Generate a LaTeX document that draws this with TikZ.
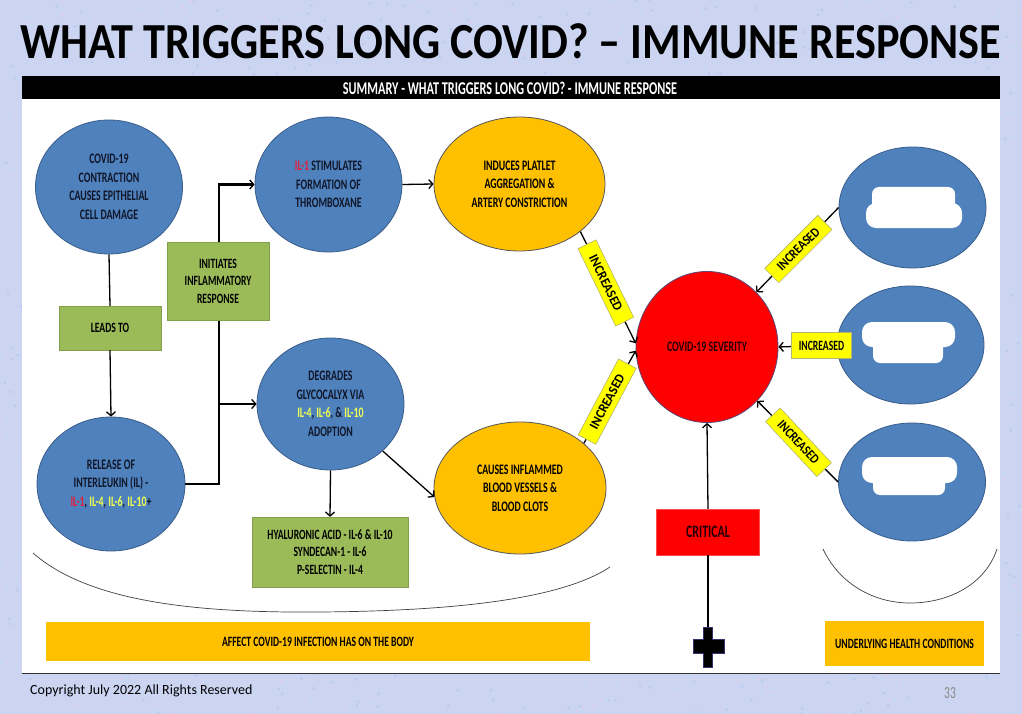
\documentclass[tikz,border=0pt]{standalone}
\usepackage{fontspec}
\setmainfont{Carlito}
\newfontfamily\diagfont[FakeStretch=0.68]{Carlito}
\newfontfamily\titlefont[FakeStretch=0.875]{Carlito}
\newfontfamily\incfontA[FakeStretch=0.95]{Carlito}
\newfontfamily\incfontB[FakeStretch=0.86]{Carlito}
\usetikzlibrary{shapes.geometric,arrows.meta}
\definecolor{bgcol}{RGB}{203,213,241}
\definecolor{bgdotA}{RGB}{225,205,235}
\definecolor{bgdotB}{RGB}{180,200,240}
\definecolor{bfill}{RGB}{79,129,189}
\definecolor{bline}{RGB}{56,93,138}
\definecolor{ofill}{RGB}{255,192,0}
\definecolor{oline}{RGB}{85,85,85}
\definecolor{gfill}{RGB}{155,187,89}
\definecolor{rfill}{RGB}{255,0,0}
\definecolor{rline}{RGB}{90,70,120}
\definecolor{yfill}{RGB}{255,255,0}
\definecolor{yline}{RGB}{180,180,110}
\definecolor{dtext}{RGB}{16,22,40}
\definecolor{ilred}{RGB}{230,30,60}
\definecolor{ilyel}{RGB}{240,255,80}
\definecolor{crittext}{RGB}{35,0,5}
\newcommand\dtxt{\diagfont\bfseries\fontsize{14.5}{18.5}\selectfont}
\newcommand\gtxt{\diagfont\bfseries\fontsize{14.2}{17.5}\selectfont}
\tikzset{
  bell/.style={ellipse, draw=bline, fill=bfill, line width=0.8pt, inner sep=0pt, text=dtext, align=center, font=\dtxt},
  oell/.style={ellipse, draw=oline, fill=ofill, line width=0.8pt, inner sep=0pt, text=black, align=center, font=\dtxt},
  gbox/.style={rectangle, fill=gfill, draw=gfill!85!black, line width=0.3pt, inner sep=0pt, text=black, align=center, font=\gtxt},
  incbox/.style={rectangle, fill=yfill, draw=yline, line width=0.6pt, inner sep=0pt, text=black, minimum height=20pt},
  obox/.style={rectangle, fill=ofill, draw=none, inner sep=0pt, text=black, align=center, font=\gtxt},
  arr/.style={line width=1.3pt, -{Straight Barb[length=4pt,width=9pt]}},
  plain/.style={line width=1.3pt},
  wline/.style={line width=2.2pt},
}
\begin{document}
\begin{tikzpicture}[x=1pt,y=-1pt]
\useasboundingbox (0,0) rectangle (1022,714);
\fill[bgcol] (0,0) rectangle (1022,714);
\pgfmathsetseed{7}
\foreach \i in {1,...,900} {
  \fill[bgdotA, opacity=0.7] ({rnd*1022},{rnd*714}) circle (1.6pt);
  \fill[bgdotB, opacity=0.7] ({rnd*1022},{rnd*714}) circle (1.6pt);
}
% title
\node[font=\titlefont\bfseries\fontsize{50.5}{60}\selectfont, text=black] (title) at (511,41) {WHAT TRIGGERS LONG COVID? – IMMUNE RESPONSE};
% panel
\fill[white] (22,99) rectangle (1000,673);
\fill[black] (22,76) rectangle (1000,99);
\draw[black!80, line width=1pt] (22,673) -- (1000,673);
\node[font=\diagfont\bfseries\fontsize{18}{20}\selectfont, text=white] (head) at (510,88) {SUMMARY - WHAT TRIGGERS LONG COVID? - IMMUNE RESPONSE};
% left nodes
\node[bell, minimum width=147pt, minimum height=134pt] (c1) at (109,187) {COVID-19\\CONTRACTION\\CAUSES EPITHELIAL\\CELL DAMAGE};
\node[bell, minimum width=147pt, minimum height=135pt] (c2) at (328.5,184.5) {\textcolor{ilred}{IL-1} STIMULATES\\FORMATION OF\\THROMBOXANE};
\node[oell, minimum width=171pt, minimum height=134pt] (o1) at (519.5,184) {INDUCES PLATLET\\AGGREGATION \&\\ARTERY CONSTRICTION};
\node[gbox, minimum width=102pt, minimum height=44pt] (leads) at (110,328) {LEADS TO};
\node[bell, minimum width=148pt, minimum height=134pt] (rel) at (111,484) {RELEASE OF\\INTERLEUKIN (IL) -\\\textcolor{ilred}{IL-1}, \textcolor{ilyel}{IL-4}, \textcolor{ilyel}{IL-6}, \textcolor{ilyel}{IL-10}+};
\node[bell, minimum width=147pt, minimum height=132pt] (c7) at (330.5,404) {DEGRADES\\GLYCOCALYX VIA\\\textcolor{ilyel}{IL-4}, \textcolor{ilyel}{IL-6}, \& \textcolor{ilyel}{IL-10}\\ADOPTION};
\node[oell, minimum width=172pt, minimum height=132pt] (o2) at (520,488) {CAUSES INFLAMMED\\BLOOD VESSELS \&\\BLOOD CLOTS};
\node[gbox, minimum width=156pt, minimum height=70pt] (hy) at (330,552) {HYALURONIC ACID - IL-6 \& IL-10\\SYNDECAN-1 - IL-6\\P-SELECTIN - IL-4};
% connectors left
\coordinate (jb) at (219,484);
\draw[plain] (c1.south) -- (leads.north);
\draw[arr] (leads.south) -- (rel.north);
\draw[wline, -{Straight Barb[length=4pt,width=9pt,line width=1.3pt]}] (rel.east) -- (jb) |- (c2.west);
\draw[wline, -{Straight Barb[length=4pt,width=9pt,line width=1.3pt]}] (jb) |- (c7.west);
\node[gbox, minimum width=102pt, minimum height=78pt] (init) at (218,281) {INITIATES\\INFLAMMATORY\\RESPONSE};
\draw[arr] (c2.east) -- (o1.west);
\draw[arr] (c7.south) -- (hy.north);
\draw[arr] (c7.-42) -- (o2.186);
% severity
\node[ellipse, draw=rline, fill=rfill, line width=0.8pt, minimum width=142pt, minimum height=151pt, inner sep=0pt, font=\dtxt, text=crittext] (sev) at (707,347) {COVID-19 SEVERITY};
% right ellipses
\node[ellipse, draw=bline, fill=bfill, line width=0.8pt, minimum width=147pt, minimum height=121pt, inner sep=0pt] (r1) at (912.5,207.5) {};
\node[ellipse, draw=bline, fill=bfill, line width=0.8pt, minimum width=147pt, minimum height=118pt, inner sep=0pt] (r2) at (910.5,345) {};
\node[ellipse, draw=bline, fill=bfill, line width=0.8pt, minimum width=147pt, minimum height=118pt, inner sep=0pt] (r3) at (912,482) {};
% white blobs
\fill[white, rounded corners=7pt] (872,187) rectangle (955,215);
\fill[white, rounded corners=10pt] (866,203) rectangle (962,228);
\fill[white, rounded corners=10pt] (862,322) rectangle (955,347);
\fill[white, rounded corners=7pt] (873,338) rectangle (943,363);
\fill[white, rounded corners=10pt] (862,457) rectangle (957,483);
\fill[white, rounded corners=7pt] (873,476) rectangle (945,495);
% increased connectors
\draw[arr] (o1.-38) -- node[incbox, rotate=-64, pos=.46, minimum width=86pt, font=\incfontA\bfseries\fontsize{13.5}{16}\selectfont] (inc1) {INCREASED} (sev.177);
\draw[arr] (o2.35) -- node[incbox, rotate=62, pos=.45, minimum width=86pt, font=\incfontA\bfseries\fontsize{13.5}{16}\selectfont] (inc2) {INCREASED} (sev.183);
\draw[arr] (r1.west) -- node[incbox, rotate=45, pos=.49, minimum width=75pt, font=\incfontB\bfseries\fontsize{13.5}{16}\selectfont] (inc3) {INCREASED} (sev.48);
\draw[arr] (r2.west) -- node[incbox, pos=.26, minimum width=60pt, minimum height=26pt, font=\gtxt] (inc4) {INCREASED} (sev.east);
\draw[arr] (r3.west) -- node[incbox, rotate=-47, pos=.49, minimum width=75pt, font=\incfontB\bfseries\fontsize{13.5}{16}\selectfont] (inc5) {INCREASED} (sev.-47);
% critical
\node[rectangle, fill=rfill, draw=rfill!70!white, line width=0.4pt, minimum width=103pt, minimum height=46pt, inner sep=0pt, font=\diagfont\bfseries\fontsize{17.5}{20}\selectfont, text=crittext] (crit) at (708,532) {CRITICAL};
\draw[arr] (crit.north) -- (sev.south);
\coordinate (crosstop) at (708,627);
\draw[plain] (crosstop) -- (crit.south);
\draw[fill=black, draw=black!60!blue!60!gray, line width=1pt] (703.5,627) -- (712.7,627) -- (712.7,639) -- (724,639) -- (724,653) -- (712.7,653) -- (712.7,667) -- (703.5,667) -- (703.5,653) -- (693,653) -- (693,639) -- (703.5,639) -- cycle;
% arcs
\draw[black!75, line width=0.7pt] (33,553) .. controls (90,603) and (200,613) .. (320,612) .. controls (450,611) and (560,600) .. (610,567);
\draw[black!75, line width=0.7pt] (823,549) .. controls (840,585) and (875,603) .. (910,603) .. controls (948,603) and (985,585) .. (997,549);
% bottom labels
\node[obox, minimum width=544pt, minimum height=39pt] (affect) at (318,641.5) {AFFECT COVID-19 INFECTION HAS ON THE BODY};
\node[obox, minimum width=159pt, minimum height=45pt] (under) at (904.5,643.5) {UNDERLYING HEALTH CONDITIONS};
% footer
\node[anchor=west, font=\fontsize{14}{16}\selectfont, text=black, inner sep=0pt] (copy) at (30,691) {Copyright July 2022 All Rights Reserved};
\node[font=\diagfont\fontsize{17}{18}\selectfont, text=black!45, inner sep=0pt] (pnum) at (950,693) {33};
\end{tikzpicture}
\end{document}
